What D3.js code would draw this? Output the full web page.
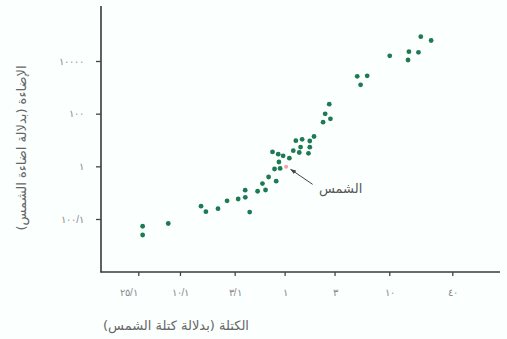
<!DOCTYPE html>
<html><head><meta charset="utf-8">
<script src="https://cdn.jsdelivr.net/npm/d3@7"></script>
<style>
html,body{margin:0;padding:0;background:#fbfffe;}
svg{display:block;font-family:"DejaVu Sans",sans-serif;}
</style></head>
<body>
<script>
// Data (mass and luminosity in solar units)
const massValues = [0.044,0.044,0.0773,0.159,0.177,0.231,0.282,0.360,0.421,0.420,0.464,0.552,0.614,0.657,0.703,0.831,0.801,0.906,0.882,0.766,0.869,0.968,1.11,1.21,1.38,1.69,1.42,1.74,1.28,1.47,1.74,1.91,2.33,2.74,2.44,2.67,4.94,6.15,5.32,10.1,15.1,15.4,19.0,20.0,25.1];
const lumValues = [0.0053,0.00247,0.00675,0.0306,0.0189,0.0246,0.0491,0.0575,0.0667,0.124,0.0184,0.113,0.221,0.126,0.394,0.272,0.792,0.836,1.46,3.53,2.89,2.51,2.04,3.93,3.35,3.13,5.38,5.33,9.41,10.6,9.16,13.6,47.4,63.9,98.9,229,2625,2742,1248,15770,10910,22550,21400,83750,60100];
const sun = {mass:1, lum:1, label:"الشمس"};
const xTickValues = [1/25,1/10,1/3,1,3,10,40];
const xTickLabels = ["٢٥/١","١٠/١","٣/١","١","٣","١٠","٤٠"];
const yTickValues = [0.01,1,100,10000];
const yTickLabels = ["١٠٠/١","١","١٠٠","١٠٠٠٠"];
const xTitle = "الكتلة (بدلالة كتلة الشمس)";
const yTitle = "الإضاءة (بدلالة اضاءة الشمس)";

const W=507,H=339;
const axisX=101, axisY=272, axisTop=6, axisRight=500;
const svg=d3.select("body").append("svg").attr("width",W).attr("height",H);

const x=d3.scaleLog().domain([1/25,40]).range([138.3,452.3]);
const y=d3.scaleLog().domain([0.01,10000]).range([219,61]);

// axis lines
svg.append("line").attr("x1",axisX).attr("x2",axisX).attr("y1",axisTop).attr("y2",axisY+0.5)
  .attr("stroke","#3a3a3a").attr("stroke-width",1.6);
svg.append("line").attr("x1",axisX-0.5).attr("x2",axisRight).attr("y1",axisY).attr("y2",axisY)
  .attr("stroke","#3a3a3a").attr("stroke-width",1.6);

const xa=svg.append("g").attr("transform",`translate(0,${axisY})`)
  .call(d3.axisBottom(x).tickValues(xTickValues).tickFormat((d,i)=>xTickLabels[i]).tickSize(4).tickPadding(13));
const ya=svg.append("g").attr("transform",`translate(${axisX},0)`)
  .call(d3.axisLeft(y).tickValues(yTickValues).tickFormat((d,i)=>yTickLabels[i]).tickSize(5).tickPadding(12));
[xa,ya].forEach(g=>{
  g.select(".domain").remove();
  g.selectAll(".tick line").attr("stroke","#444").attr("stroke-width",1.3);
  g.selectAll(".tick text").attr("fill","#8a8a8a").style("font-size","10px")
    .style("letter-spacing","2px").attr("direction","ltr");
});
xa.selectAll(".tick text").filter((d,i)=>i===0).attr("dx",-10);

// points
const pts=massValues.map((m,i)=>({m,l:lumValues[i]}));
svg.append("g").selectAll("circle").data(pts).join("circle")
  .attr("cx",d=>x(d.m)).attr("cy",d=>y(d.l)).attr("r",2.4).attr("fill","#1d7a52");

// sun
svg.append("circle").attr("cx",x(sun.mass)+1.5).attr("cy",y(sun.lum)+0.5).attr("r",2).attr("fill","#f4a0a0");
svg.append("defs").append("marker").attr("id","ah").attr("viewBox","0 0 10 10").attr("refX",9).attr("refY",5)
  .attr("markerWidth",6).attr("markerHeight",6).attr("orient","auto")
  .append("path").attr("d","M0,1.5L10,5L0,8.5z").attr("fill","#444");
svg.append("line").attr("x1",x(sun.mass)+28).attr("y1",y(sun.lum)+18).attr("x2",x(sun.mass)+6).attr("y2",y(sun.lum)+3)
  .attr("stroke","#444").attr("stroke-width",1).attr("marker-end","url(#ah)");
svg.append("text").attr("x",x(sun.mass)+56).attr("y",y(sun.lum)+27).attr("text-anchor","middle")
  .attr("fill","#555").style("font-size","13px").attr("direction","rtl").text(sun.label);

// titles
svg.append("text").attr("x",176).attr("y",330).attr("text-anchor","middle").attr("direction","rtl")
  .attr("fill","#666").style("font-size","13px").text(xTitle);
svg.append("text").attr("transform","translate(26,148) rotate(-90)").attr("text-anchor","middle").attr("direction","rtl")
  .attr("fill","#666").style("font-size","13px").text(yTitle);
</script>
</body></html>
